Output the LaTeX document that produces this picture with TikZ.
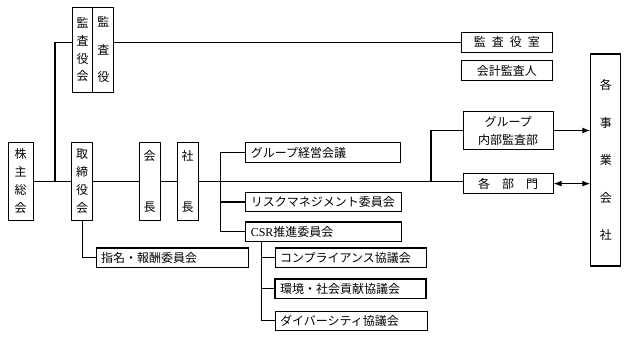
\documentclass[tikz,border=0pt]{standalone}
\usepackage{fontspec}
\newfontfamily\jpfont{Noto Sans CJK JP}
\newfontfamily\latfont{Liberation Serif}
\usetikzlibrary{arrows.meta}
\tikzset{
  box/.style={draw,line width=1.1pt,inner sep=0pt,font=\jpfont\fontsize{12}{14}\selectfont},
  hbox/.style={box,text width=#1,inner xsep=5pt,minimum height=19.5pt,align=left},
  cbox/.style={box,minimum width=#1,minimum height=20pt,align=center},
  vbox/.style 2 args={box,minimum width=21pt,minimum height=#1,align=center,font=\jpfont\fontsize{12}{#2}\selectfont},
  arr/.style={-{Latex[length=8pt,width=6pt]}},
  darr/.style={{Latex[length=8pt,width=6pt]}-{Latex[length=8pt,width=6pt]}},
}

\begin{document}
\begin{tikzpicture}[x=1pt,y=-1pt,line width=1.1pt]
\useasboundingbox (0,0) rectangle (628,337);
\node[vbox={78pt}{18pt},minimum width=25pt] (kabu) at (20.7,181.4) {株\\主\\総\\会};
\node[vbox={78pt}{18pt}] (tori) at (82.2,181.4) {取\\締\\役\\会};
\node[vbox={78pt}{51pt}] (kaicho) at (149.7,181.4) {会\\長};
\node[vbox={78pt}{51pt}] (shacho) at (187.7,181.4) {社\\長};
\node[vbox={84.7pt}{17.8pt},minimum width=20pt] (kansakai) at (82.7,49.7) {監\\査\\役\\会};
\node[vbox={84.7pt}{27.5pt}] (kansa) at (103.4,49.7) {監\\査\\役};
\node[vbox={212pt}{37.5pt},minimum width=30pt] (jigyo) at (605.8,160) {各\\事\\業\\会\\社};

\node[cbox=90.3pt] (shitsu) at (506.9,42.3) {監\hspace{6pt}査\hspace{6pt}役\hspace{6pt}室};
\node[cbox=90.3pt] (kaikei) at (506.9,70.8) {会計監査人};
\node[cbox=89.7pt,minimum height=37.6pt,font=\jpfont\fontsize{12}{18}\selectfont] (naibu) at (508.2,130.5) {グループ\\内部監査部};
\node[cbox=89.7pt] (bumon) at (508.2,183.6) {各\hspace{12pt}部\hspace{12pt}門};

\node[hbox=144.3pt] (keiei) at (322.9,152.5) {グループ経営会議};
\node[hbox=145.3pt] (risk) at (323.4,202) {リスクマネジメント委員会};
\node[hbox=145.3pt] (csr) at (323.4,231.7) {{\latfont CSR}推進委員会};
\node[hbox=142.3pt] (shimei) at (172.2,257.7) {指名・報酬委員会};
\node[hbox=141.7pt] (comp) at (350.9,257.7) {コンプライアンス協議会};
\node[hbox=141pt] (kankyo) at (350.5,288.7) {環境・社会貢献協議会};
\node[hbox=142.7pt] (divers) at (351.4,320.9) {ダイバーシティ協議会};

\coordinate (kansaroot) at (55,181.4);
\coordinate (kaigiroot) at (220.7,181.4);
\coordinate (buroot) at (431,181.4);

\draw (kabu) -- (tori) -- (kaicho) -- (shacho) -- (buroot) -- (bumon.west |- buroot);
\draw (kansaroot) |- (kansakai.west |- shitsu);
\draw (kansa.east |- shitsu) -- (shitsu.west);
\draw (keiei.west) -| (kaigiroot);
\foreach \n in {risk,csr} \draw (kaigiroot) |- (\n.west);
\draw (tori.south) |- (shimei.west);
\foreach \n in {comp,kankyo,divers} \draw ([xshift=16pt]csr.south west) |- (\n.west);
\draw (buroot) |- (naibu.west);
\draw[arr] (naibu.east) -- (naibu.east -| jigyo.west);
\draw[darr] (bumon.east) -- (bumon.east -| jigyo.west);
\end{tikzpicture}
\end{document}
